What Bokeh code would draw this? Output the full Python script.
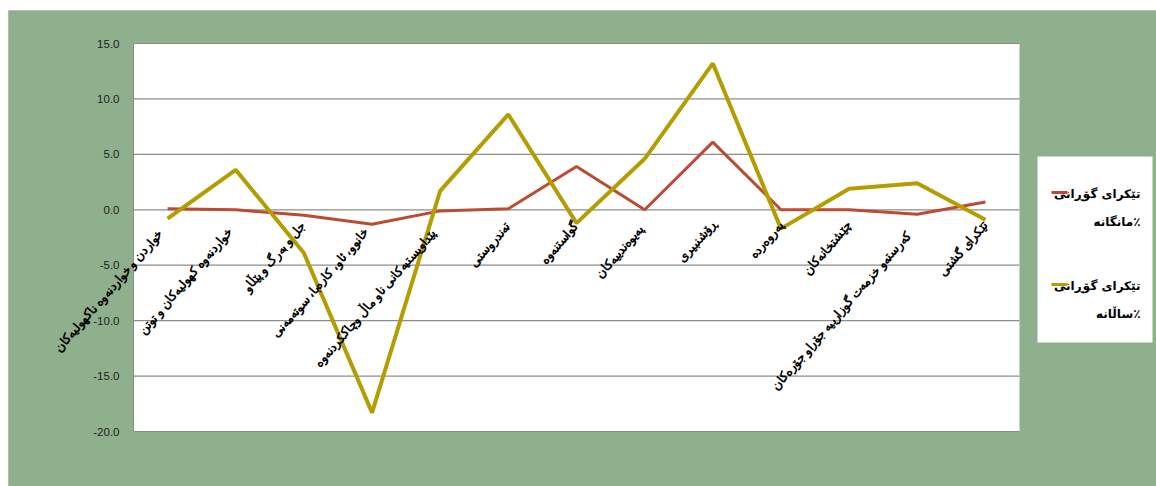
from bokeh.plotting import figure
from bokeh.models import (Range1d, ColumnDataSource, LabelSet, Label, BoxAnnotation,
                          NumeralTickFormatter, FixedTicker)
from bokeh.embed import file_html
from bokeh.resources import INLINE
import math

categories = [
    "خواردن و خواردنەوە ناکهولیەکان",
    "خواردنەوە کهولیەکان و توتن",
    "جل و بەرگ و پێڵاو",
    "خانوو، ئاو، کارەبا، سوتەمەنی",
    "پێداویستیەکانی ناو ماڵ وچاککردنەوە",
    "تەندروستی",
    "گواستنەوە",
    "پەیوەندییەکان",
    "ڕۆشنبیری",
    "پەروەردە",
    "چێشتخانەکان",
    "کەرستەو خزمەت گوزارییە جۆراو جۆرەکان",
    "تێکرای گشتی",
]
monthly = [0.1, 0.0, -0.5, -1.3, -0.1, 0.1, 3.9, 0.0, 6.1, 0.0, 0.0, -0.4, 0.7]
annual = [-0.8, 3.6, -3.9, -18.3, 1.7, 8.6, -1.2, 4.6, 13.2, -1.7, 1.9, 2.4, -0.9]
legend_monthly = ["تێکرای گۆڕانی", "مانگانە٪"]
legend_annual = ["تێکرای گۆڕانی", "ساڵانە٪"]
y_ticks = [-20, -15, -10, -5, 0, 5, 10, 15]

GREEN = "#8FB08C"
RED = "#BC4B31"
OLIVE = "#B39D00"

W, H = 1156, 486
# plot-area placement on the canvas (pixels)
PL, PR, PT, PB = 133, 1019, 43, 431
n = len(categories)
x0d, x1d = -0.5, n - 0.5
y0d, y1d = min(y_ticks), max(y_ticks)
kx = (PR - PL) / (x1d - x0d)
ky = (PB - PT) / (y1d - y0d)
xr = Range1d(x0d - PL / kx, x1d + (W - PR) / kx)
yr = Range1d(y0d - (H - PB) / ky, y1d + PT / ky)

xs = list(range(n))

p = figure(width=W, height=H, output_backend="svg", toolbar_location=None,
           x_range=xr, y_range=yr,
           min_border_left=0, min_border_right=0, min_border_top=0, min_border_bottom=0)
p.border_fill_color = "white"
p.background_fill_color = "white"
p.outline_line_color = None
p.xaxis.visible = False
p.xgrid.visible = False
p.ygrid.visible = False

# green chart-area background with thin grey border
p.add_layout(BoxAnnotation(left=8, right=W + 5, bottom=-5, top=H - 10,
                           left_units="screen", right_units="screen",
                           bottom_units="screen", top_units="screen",
                           fill_color=GREEN, fill_alpha=1.0,
                           line_color="#7F7F7F", line_width=1, level="underlay"))
# white plot area
p.add_layout(BoxAnnotation(left=x0d, right=x1d, bottom=y0d, top=y1d,
                           fill_color="white", fill_alpha=1.0, line_color=None,
                           level="underlay"))

# horizontal gridlines
p.segment(x0=[x0d] * len(y_ticks), x1=[x1d] * len(y_ticks), y0=y_ticks, y1=y_ticks,
          line_color="#8C8C8C", line_width=1.2)

ax = p.yaxis[0]
ax.fixed_location = x0d
ax.bounds = (y0d, y1d)
ax.ticker = FixedTicker(ticks=y_ticks)
ax.formatter = NumeralTickFormatter(format="0.0")
ax.major_tick_line_color = None
ax.minor_tick_line_color = None
ax.axis_line_color = "#8A8A8A"
ax.major_label_standoff = 8
ax.major_label_text_font = "Liberation Sans"
ax.major_label_text_font_size = "11.5px"
ax.major_label_text_color = "#222222"

p.line(xs, monthly, line_color=RED, line_width=3)
p.line(xs, annual, line_color=OLIVE, line_width=4)

src = ColumnDataSource(dict(x=xs, y=[0.0] * n, t=categories))
labels = LabelSet(x="x", y="y", text="t", source=src, angle=math.radians(49),
                  text_align="right", text_baseline="middle",
                  x_offset=3, y_offset=-10,
                  text_font="DejaVu Sans", text_font_style="bold",
                  text_font_size="12.5px", text_color="black")
p.add_layout(labels)

# legend (screen units, origin bottom-left of canvas)
p.add_layout(BoxAnnotation(left=1037, right=1152, bottom=144, top=330,
                           left_units="screen", right_units="screen",
                           bottom_units="screen", top_units="screen",
                           fill_color="white", fill_alpha=1.0, line_color=None))
for (lines, col, y0) in [(legend_monthly, RED, 294), (legend_annual, OLIVE, 202)]:
    p.add_layout(BoxAnnotation(left=1051, right=1067, bottom=y0 - 1.5, top=y0 + 1.5,
                               left_units="screen", right_units="screen",
                               bottom_units="screen", top_units="screen",
                               fill_color=col, fill_alpha=1.0, line_color=None))
    for i, t in enumerate(lines):
        p.add_layout(Label(x=1140, y=y0 - 1 - i * 28, x_units="screen", y_units="screen",
                           text=t, text_align="right", text_baseline="middle",
                           text_font="DejaVu Sans", text_font_style="bold",
                           text_font_size="12px", text_color="black"))

open("out.html", "w").write(file_html(p, INLINE))
